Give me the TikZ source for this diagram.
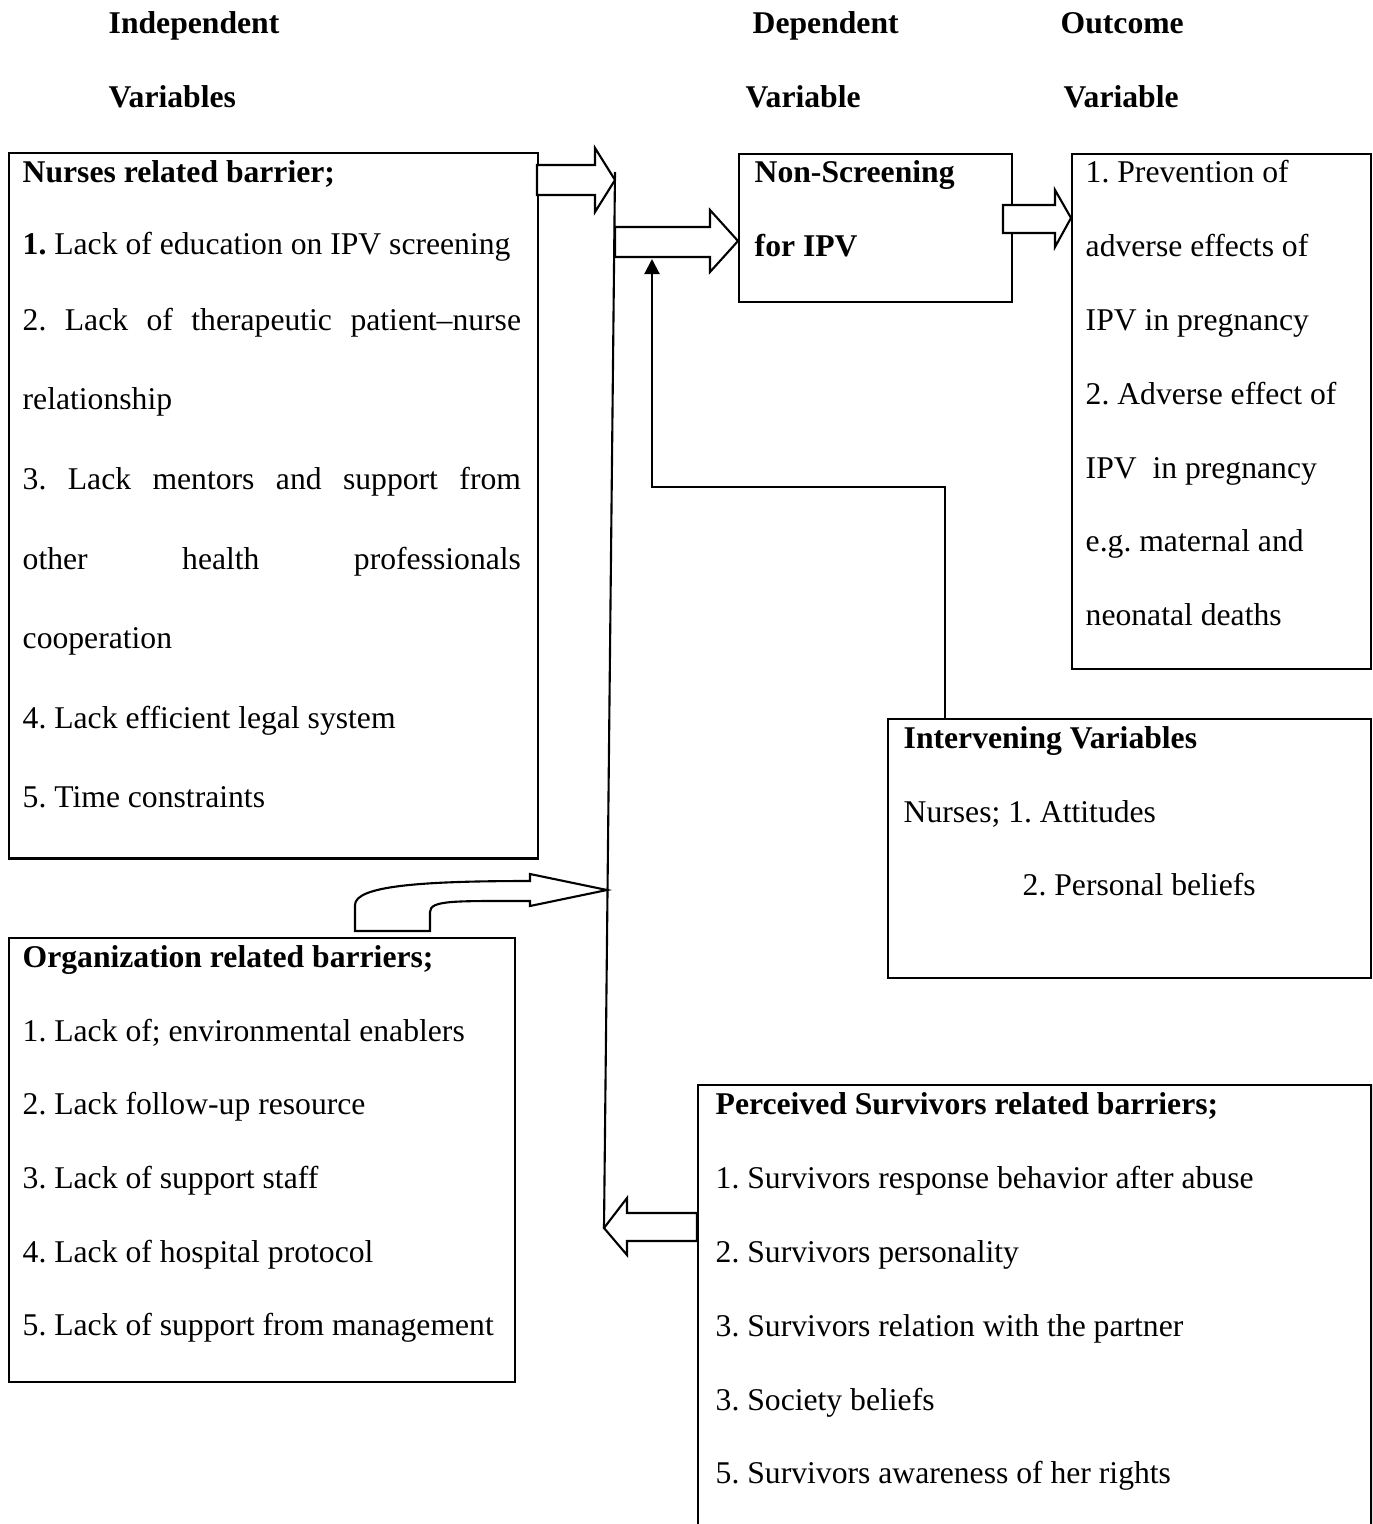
\documentclass[tikz,border=0pt]{standalone}
\usepackage{fontspec}
\setmainfont{Liberation Serif}
\usepackage{tikz}
\usetikzlibrary{arrows.meta}
\frenchspacing

\begin{document}
\begin{tikzpicture}[x=0.01cm, y=-0.01cm,
  box/.style={draw, line width=0.6pt, anchor=north west, inner sep=0pt},
  txt/.style={anchor=base west, inner sep=0pt, font=\fontsize{9}{11}\selectfont},
  hd/.style={txt, font=\fontsize{9}{11}\selectfont\bfseries},
  blk/.style={draw, line width=0.6pt, fill=white, line join=miter},
  link/.style={draw, line width=0.6pt}]
  \clip (0,0) rectangle (1372,1524);
  % column headings
  \node[hd] (indep1) at (108,33) {Independent};
  \node[hd] (indep2) at (108,107) {Variables};
  \node[hd] (dep1) at (752,33) {Dependent};
  \node[hd] (dep2) at (745,107) {Variable};
  \node[hd] (out1) at (1060,33) {Outcome};
  \node[hd] (out2) at (1063,107) {Variable};
  % boxes
  \node[box, minimum width=5.29cm, minimum height=7.05cm] (nurses) at (8,152) {};
  \node[box, minimum width=2.73cm, minimum height=1.48cm] (nonscreen) at (738,153) {};
  \node[box, minimum width=2.99cm, minimum height=5.15cm] (outcome) at (1071,153) {};
  \node[box, minimum width=4.83cm, minimum height=2.59cm] (interv) at (887,718) {};
  \node[box, minimum width=5.06cm, minimum height=4.44cm] (organ) at (8,937) {};
  \node[box, minimum width=6.73cm, minimum height=4.60cm] (surv) at (697,1084) {};
  % nurses related
  \node[hd] (nur0) at (22,182) {Nurses related barrier;};
  \node[txt] (nur1) at (22,254) {\textbf{1.} Lack of education on IPV screening};
  \node[txt] (nur2) at (22,330) {\makebox[4.98cm][s]{2. Lack of therapeutic patient–nurse}};
  \node[txt] (nur3) at (22,409) {relationship};
  \node[txt] (nur4) at (22,489) {\makebox[4.98cm][s]{3. Lack mentors and support from}};
  \node[txt] (nur5) at (22,569) {\makebox[4.98cm][s]{other health professionals}};
  \node[txt] (nur6) at (22,648) {cooperation};
  \node[txt] (nur7) at (22,728) {4. Lack efficient legal system};
  \node[txt] (nur8) at (22,807) {5. Time constraints};
  % dependent
  \node[hd] (dep3) at (754,182) {Non-Screening};
  \node[hd] (dep4) at (754,256) {for IPV};
  % outcome
  \node[txt] (out3) at (1085,182) {1. Prevention of};
  \node[txt] (out4) at (1085,256) {adverse effects of};
  \node[txt] (out5) at (1085,330) {IPV in pregnancy};
  \node[txt] (out6) at (1085,404) {2. Adverse effect of};
  \node[txt] (out7) at (1085,478) {IPV\ \ in pregnancy};
  \node[txt] (out8) at (1085,551) {e.g. maternal and};
  \node[txt] (out9) at (1085,625) {neonatal deaths};
  % intervening
  \node[hd] (int0) at (903,748) {Intervening Variables};
  \node[txt] (int1) at (903,822) {Nurses; 1. Attitudes};
  \node[txt] (int2) at (1022,895) {2. Personal beliefs};
  % organization related
  \node[hd] (org0) at (22,967) {Organization related barriers;};
  \node[txt] (org1) at (22,1041) {1. Lack of; environmental enablers};
  \node[txt] (org2) at (22,1114) {2. Lack follow-up resource};
  \node[txt] (org3) at (22,1188) {3. Lack of support staff};
  \node[txt] (org4) at (22,1262) {4. Lack of hospital protocol};
  \node[txt] (org5) at (22,1335) {5. Lack of support from management};
  % survivors related
  \node[hd] (sur0) at (715,1114) {Perceived Survivors related barriers;};
  \node[txt] (sur1) at (715,1188) {1. Survivors response behavior after abuse};
  \node[txt] (sur2) at (715,1262) {2. Survivors personality};
  \node[txt] (sur3) at (715,1336) {3. Survivors relation with the partner};
  \node[txt] (sur4) at (715,1410) {3. Society beliefs};
  \node[txt] (sur5) at (715,1483) {5. Survivors awareness of her rights};
  % collecting line
  \coordinate (bartop) at (615,172);
  \coordinate (barbot) at (604,1228);
  \draw[link] (bartop) -- (barbot);
  % block arrows
  \draw[blk] (537,165) -- (595,165) -- (595,148) -- (bartop |- 0,180) -- (595,212) -- (595,195) -- (537,195) -- cycle;
  \draw[blk] (615,227) -- (710,227) -- (710,210) -- (nonscreen.west |- 0,241) -- (710,272) -- (710,257) -- (615,257) -- cycle;
  \draw[blk] (1003,205) -- (1055,205) -- (1055,190) -- (outcome.west |- 0,218) -- (1055,247) -- (1055,233) -- (1003,233) -- cycle;
  \draw[blk] (355,931) -- (355,905) .. controls (355,886) and (420,881) .. (530,881) -- (530,874) -- (607,890) -- (530,906) -- (530,901) .. controls (455,901) and (430,900) .. (430,912) -- (430,931) -- cycle;
  \draw[blk] (surv.west |- 0,1213) -- (627,1213) -- (627,1198) -- (barbot) -- (627,1255) -- (627,1241) -- (surv.west |- 0,1241) -- cycle;
  % intervening feedback
  \coordinate (ivfoot) at (945,718);
  \coordinate (ivhead) at (652,259);
  \draw[link, -{Triangle[length=4.3pt, width=4.3pt]}] (ivfoot) -- (945,487) -| (ivhead);
\end{tikzpicture}
\end{document}
